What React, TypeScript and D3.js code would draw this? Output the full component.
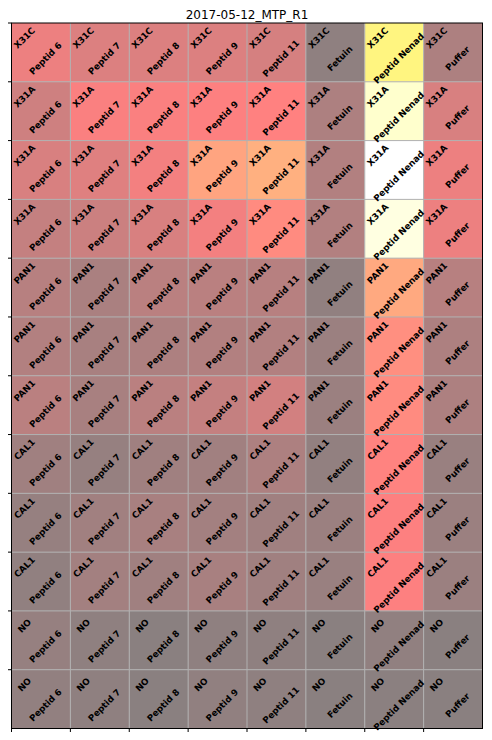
import React from "react";
import * as d3 from "d3";

const title = "2017-05-12_MTP_R1";
const columns = ["Peptid 6", "Peptid 7", "Peptid 8", "Peptid 9", "Peptid 11", "Fetuin", "Peptid Nenad", "Puffer"];
const rowLabels = ["X31C", "X31A", "X31A", "X31A", "PAN1", "PAN1", "PAN1", "CAL1", "CAL1", "CAL1", "NO", "NO"];

const row0 = [0.31, 0.26, 0.26, 0.26, 0.24, 0.03, 0.715, 0.12];
const row1 = [0.22, 0.35, 0.35, 0.36, 0.37, 0.12, 0.9, 0.25];
const row2 = [0.25, 0.27, 0.33, 0.475, 0.51, 0.135, 1.0, 0.31];
const row3 = [0.19, 0.21, 0.25, 0.33, 0.4, 0.135, 0.94, 0.31];
const row4 = [0.15, 0.11, 0.16, 0.16, 0.15, 0.035, 0.49, 0.15];
const row5 = [0.135, 0.105, 0.12, 0.135, 0.135, 0.065, 0.41, 0.12];
const row6 = [0.16, 0.105, 0.16, 0.19, 0.23, 0.065, 0.4, 0.12];
const row7 = [0.08, 0.05, 0.08, 0.085, 0.12, 0.04, 0.375, 0.06];
const row8 = [0.05, 0.085, 0.105, 0.09, 0.08, 0.065, 0.36, 0.065];
const row9 = [0.035, 0.09, 0.08, 0.105, 0.08, 0.06, 0.36, 0.065];
const row10 = [0.05, 0.03, 0.015, 0.03, 0.03, 0.015, 0.035, 0.015];
const row11 = [0.04, 0.03, 0.015, 0.035, 0.03, 0.015, 0.02, 0.015];
const values = [row0, row1, row2, row3, row4, row5, row6, row7, row8, row9, row10, row11];

const W = 492, H = 740;
const X0 = 11.5, X1 = 482.5, Y0 = 23, Y1 = 728.5;

function hot(v: number) {
  const c = (t: number) => Math.max(0, Math.min(1, t));
  const r = c(0.0416 + (1 - 0.0416) * v / 0.365079);
  const g = c((v - 0.365079) / (0.746032 - 0.365079));
  const b = c((v - 0.746032) / (1 - 0.746032));
  // alpha 0.5 over white
  return d3.rgb(0.5 * r * 255 + 127.5, 0.5 * g * 255 + 127.5, 0.5 * b * 255 + 127.5).formatHex();
}

export default function App() {
  const xs = d3.scaleBand<number>().domain(d3.range(columns.length)).range([X0, X1]).padding(0);
  const ys = d3.scaleBand<number>().domain(d3.range(rowLabels.length)).range([Y0, Y1]).padding(0);
  const cw = xs.bandwidth(), ch = ys.bandwidth();
  const font = "'DejaVu Sans', sans-serif";
  return (
    <div style={{ position: "absolute", left: 0, top: 0 }}>
      <svg width={W} height={H} style={{ display: "block", background: "#fff" }}>
        <text x={(X0 + X1) / 2} y={18.5} textAnchor="middle" fontFamily={font} fontSize={12} fill="#000">{title}</text>
        {values.map((row, ri) =>
          row.map((v, ci) => (
            <rect key={`c${ri}-${ci}`} x={xs(ci)!} y={ys(ri)!} width={cw} height={ch} fill={hot(v)} />
          ))
        )}
        {d3.range(1, columns.length).map((i) => (
          <line key={`gx${i}`} x1={xs(i)!} x2={xs(i)!} y1={Y0} y2={Y1} stroke="#b0b0b0" strokeWidth={1} />
        ))}
        {d3.range(1, rowLabels.length).map((i) => (
          <line key={`gy${i}`} x1={X0} x2={X1} y1={ys(i)!} y2={ys(i)!} stroke="#b0b0b0" strokeWidth={1} />
        ))}
        {values.map((row, ri) =>
          row.map((_, ci) => {
            const cx = xs(ci)! + cw / 2;
            const cy = ys(ri)! + ch / 2;
            return (
              <g key={`t${ri}-${ci}`} fontFamily={font} fontWeight="bold" fontSize={8.8} fill="#000">
                <text x={0} y={0} dy="0.35em" textAnchor="middle" transform={`translate(${cx - 16.5},${cy - 14.5}) rotate(-45)`}>{rowLabels[ri]}</text>
                <text x={0} y={0} dy="0.35em" textAnchor="middle" transform={`translate(${cx + 4.5},${cy + 6}) rotate(-45)`}>{columns[ci]}</text>
              </g>
            );
          })
        )}
        <rect x={X0} y={Y0} width={X1 - X0} height={Y1 - Y0} fill="none" stroke="#000" strokeWidth={1} />
        {d3.range(0, rowLabels.length).map((i) => (
          <line key={`ty${i}`} x1={X0 - 3.5} x2={X0} y1={ys(i)!} y2={ys(i)!} stroke="#000" strokeWidth={1} />
        ))}
        {d3.range(0, columns.length).map((i) => (
          <line key={`tx${i}`} x1={xs(i)!} x2={xs(i)!} y1={Y1} y2={Y1 + 3.5} stroke="#000" strokeWidth={1} />
        ))}
      </svg>
    </div>
  );
}
